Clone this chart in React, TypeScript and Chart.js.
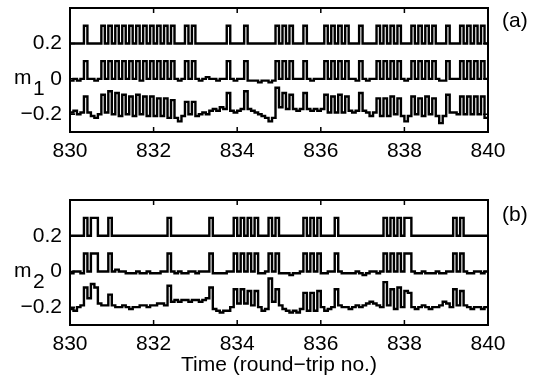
import React, { useEffect, useRef } from 'react';
import { Chart, registerables } from 'chart.js';

Chart.register(...registerables);

const FONT = "'Liberation Sans', Arial, Helvetica, sans-serif";
const FS = 21;

// time axis
const X_MIN = 830;
const X_MAX = 840;
const SLOTS_PER_TRIP = 12; // bit slots per round trip
const xTickValues = [830, 832, 834, 836, 838, 840];
const yTickValues = [-0.2, 0, 0.2];
const yTickLabels = ['\u22120.2', '0', '0.2'];
const Y_MIN = -0.3;
const Y_MAX = 0.4;

// top trace levels
const topLow = 0.2;
const topHigh = 0.3;

// ---------- panel (a) : m1 ----------
const m1TopPulses = [4, 9, 11, 13, 15, 17, 19, 21, 23, 25, 27, 29, 33, 35, 45, 50, 59, 61, 63, 67,
  73, 75, 77, 79, 83, 88, 90, 92, 94, 98, 100, 102, 104, 108, 112, 114, 116, 118];

// middle trace, hundredths, one value per bit slot
const m1Middle = [
  -1, 0, -1, 0, 10, 0, 0, -1, 0, 10, 0, 10,
  0, 10, 0, 10, 0, 10, 0, 10, -1, 10, 0, 10,
  0, 10, 0, 10, 0, 10, 0, -1, 0, 10, 0, 10,
  0, -1, 0, 1, 0, 0, -1, 0, 0, 10, 0, -1,
  0, 0, 10, -1, -1, -1, -2, -1, -1, -2, -1, 10,
  0, 10, 0, 10, 0, 0, 0, 10, 0, -1, 0, 0,
  0, 10, 0, 10, 0, 10, 0, 10, 0, 0, -1, 10,
  0, -1, 0, 0, 10, 0, 10, 0, 10, 0, 10, 0,
  -1, 0, 10, 0, 10, 0, 10, 0, 10, 0, -1, -1,
  10, 0, 0, 0, 10, 0, 10, 0, 10, 0, 10, 0,
];

// bottom trace, hundredths
const m1Bottom = [
  -19, -18, -20, -19, -10, -19, -21, -22, -20, -9, -19, -7,
  -20, -8, -21, -9, -20, -10, -21, -9, -20, -10, -21, -10,
  -21, -11, -21, -11, -22, -12, -22, -24, -21, -13, -20, -13,
  -21, -20, -19, -20, -18, -17, -18, -16, -17, -8, -18, -19,
  -18, -17, -7, -17, -18, -19, -20, -21, -22, -24, -22, -5,
  -16, -8, -17, -9, -17, -18, -17, -8, -17, -18, -17, -18,
  -17, -9, -19, -10, -19, -9, -19, -10, -18, -19, -18, -8,
  -18, -19, -21, -19, -11, -21, -11, -21, -10, -20, -11, -21,
  -24, -21, -10, -20, -11, -21, -10, -20, -11, -21, -25, -21,
  -9, -19, -19, -20, -10, -20, -10, -20, -10, -20, -10, -22,
];

// ---------- panel (b) : m2 ----------
const m2TopPulses = [4, 6, 7, 11, 28, 40, 47, 49, 51, 53, 57, 59, 67, 69, 71, 76, 90, 92, 94, 96, 97, 110, 112];

const m2Middle = [
  -1, 0, 0, -1, 10, 0, 10, 10, 0, 0, 0, 10,
  0, 1, 0, 0, -1, -1, -1, 0, -1, -1, 0, -1,
  -1, -1, 0, 0, 10, 0, -1, 0, -1, -1, 0, 0,
  -1, 0, 0, 0, 10, -1, -1, -1, -1, 0, 0, 10,
  0, 10, 0, 10, 0, 10, -1, -1, 0, 10, 0, 10,
  -1, -1, -1, -2, -1, -1, 0, 10, 0, 10, 0, 10,
  -1, -1, 0, 0, 10, 0, -1, -1, -1, -1, 0, -1,
  -2, -1, 0, 0, -1, 0, 10, 0, 10, 0, 10, 0,
  10, 10, 0, -1, -1, 0, -1, -1, -1, 0, -1, -1,
  0, 0, 10, 0, 10, 0, -1, -1, 0, 0, -1, 0,
];

const m2Bottom = [
  -21, -22, -20, -19, -9, -15, -7, -9, -18, -19, -19, -13,
  -19, -20, -20, -19, -20, -21, -20, -20, -19, -19, -20, -19,
  -19, -18, -18, -19, -8, -17, -16, -17, -16, -16, -17, -16,
  -16, -17, -16, -15, -9, -21, -22, -23, -22, -22, -20, -10,
  -18, -10, -18, -11, -19, -11, -20, -22, -21, -4, -17, -10,
  -19, -21, -22, -23, -22, -23, -21, -12, -22, -12, -22, -11,
  -20, -22, -21, -20, -10, -19, -20, -20, -21, -20, -19, -20,
  -19, -18, -17, -18, -19, -20, -6, -19, -10, -21, -9, -20,
  -11, -12, -20, -21, -20, -19, -20, -21, -20, -20, -19, -17,
  -18, -20, -10, -19, -11, -19, -20, -21, -20, -20, -21, -20,
];

function stepPoints(levels: number[]) {
  const pts: { x: number; y: number }[] = [];
  levels.forEach((v, i) => {
    pts.push({ x: X_MIN + i / SLOTS_PER_TRIP, y: v });
    pts.push({ x: X_MIN + (i + 1) / SLOTS_PER_TRIP, y: v });
  });
  return pts;
}

function topLevels(pulses: number[], n: number) {
  const out: number[] = [];
  for (let i = 0; i < n; i++) out.push(pulses.includes(i) ? topHigh : topLow);
  return out;
}

const boxPlugin = {
  id: 'matlabBox',
  afterDatasetsDraw(chart: any) {
    const { ctx, chartArea: a, scales } = chart;
    ctx.save();
    ctx.strokeStyle = '#000';
    ctx.lineWidth = 2;
    ctx.strokeRect(a.left, a.top, a.right - a.left, a.bottom - a.top);
    ctx.lineWidth = 1.5;
    const L = 5;
    ctx.beginPath();
    for (const v of xTickValues) {
      const px = scales.x.getPixelForValue(v);
      ctx.moveTo(px, a.bottom);
      ctx.lineTo(px, a.bottom - L);
      ctx.moveTo(px, a.top);
      ctx.lineTo(px, a.top + L);
    }
    for (const v of yTickValues) {
      const py = scales.y.getPixelForValue(v);
      ctx.moveTo(a.left, py);
      ctx.lineTo(a.left + L, py);
      ctx.moveTo(a.right, py);
      ctx.lineTo(a.right - L, py);
    }
    ctx.stroke();
    ctx.restore();
  },
};

type PanelProps = {
  top: number;
  height: number;
  plotBottom: number; // in canvas coords
  pulses: number[];
  middle: number[];
  bottom: number[];
  xTitle?: string;
};

function Panel({ top, height, plotBottom, pulses, middle, bottom, xTitle }: PanelProps) {
  const ref = useRef<HTMLCanvasElement | null>(null);
  useEffect(() => {
    if (!ref.current) return;
    const lineStyle = { borderColor: '#000', borderWidth: 2.4, pointRadius: 0, fill: false, tension: 0 };
    const chart = new Chart(ref.current, {
      type: 'line',
      data: {
        datasets: [
          { ...lineStyle, data: stepPoints(topLevels(pulses, middle.length)) },
          { ...lineStyle, data: stepPoints(middle.map((v) => v / 100)) },
          { ...lineStyle, data: stepPoints(bottom.map((v) => v / 100)) },
        ],
      },
      options: {
        animation: false,
        responsive: false,
        devicePixelRatio: 1,
        layout: { padding: { left: 0, right: 55, top: 8, bottom: 0 } },
        plugins: { legend: { display: false }, tooltip: { enabled: false } },
        scales: {
          x: {
            type: 'linear',
            min: X_MIN,
            max: X_MAX,
            grid: { display: false, drawTicks: false },
            border: { display: false },
            afterBuildTicks: (s: any) => {
              s.ticks = xTickValues.map((v) => ({ value: v }));
            },
            afterFit: (s: any) => {
              s.height = height - plotBottom;
              s.paddingLeft = 0;
              s.paddingRight = 0;
            },
            ticks: {
              color: '#000',
              font: { family: FONT, size: FS },
              padding: 7,
              maxRotation: 0,
              autoSkip: false,
              callback: (v: any) => String(v),
            },
            title: xTitle
              ? {
                  display: true,
                  text: xTitle,
                  color: '#000',
                  font: { family: FONT, size: FS },
                  padding: { top: 0, bottom: 0 },
                }
              : { display: false },
          },
          y: {
            type: 'linear',
            min: Y_MIN,
            max: Y_MAX,
            grid: { display: false, drawTicks: false },
            border: { display: false },
            afterBuildTicks: (s: any) => {
              s.ticks = yTickValues.map((v) => ({ value: v }));
            },
            afterFit: (s: any) => {
              s.width = 70;
              s.paddingTop = 0;
              s.paddingBottom = 0;
            },
            ticks: {
              color: '#000',
              font: { family: FONT, size: FS },
              padding: 8,
              autoSkip: false,
              callback: (_v: any, i: number) => yTickLabels[i],
            },
          },
        },
      },
      plugins: [boxPlugin],
    } as any);
    return () => chart.destroy();
  }, []);
  return (
    <canvas
      ref={ref}
      width={543}
      height={height}
      style={{ position: 'absolute', left: 0, top, width: 543, height }}
    />
  );
}

const txt: React.CSSProperties = {
  position: 'absolute',
  fontFamily: FONT,
  fontSize: FS,
  lineHeight: `${FS}px`,
  color: '#000',
  whiteSpace: 'nowrap',
};

export default function App() {
  return (
    <div
      style={{
        position: 'fixed',
        left: 0,
        top: 0,
        width: 543,
        height: 376,
        background: '#fff',
        overflow: 'hidden',
      }}
    >
      <Panel top={0} height={170} plotBottom={132} pulses={m1TopPulses} middle={m1Middle} bottom={m1Bottom} />
      <Panel
        top={192}
        height={186}
        plotBottom={133}
        pulses={m2TopPulses}
        middle={m2Middle}
        bottom={m2Bottom}
        xTitle={'Time (round\u2212trip no.)'}
      />
      <span style={{ ...txt, left: 14, top: 66 }}>m</span>
      <span style={{ ...txt, left: 33, top: 77 }}>1</span>
      <span style={{ ...txt, left: 14, top: 259 }}>m</span>
      <span style={{ ...txt, left: 33, top: 270 }}>2</span>
      <span style={{ ...txt, left: 502, top: 9 }}>(a)</span>
      <span style={{ ...txt, left: 502, top: 203 }}>(b)</span>
    </div>
  );
}
